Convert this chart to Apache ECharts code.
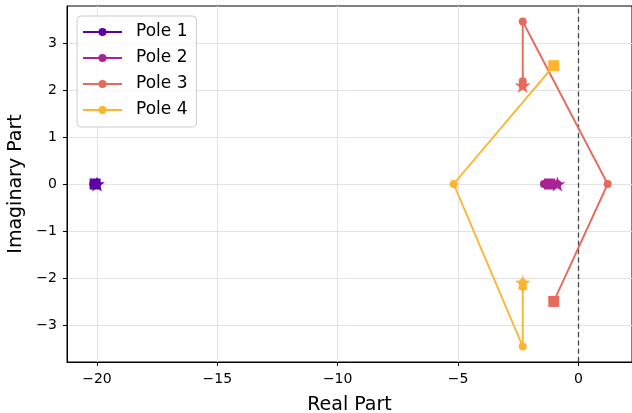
<!DOCTYPE html>
<html><head><meta charset="utf-8">
<script src="https://cdn.jsdelivr.net/npm/echarts@6/dist/echarts.min.js"></script>
<style>html,body{margin:0;padding:0;background:#fff}#c{width:632px;height:413px}</style>
</head><body><div id="c"></div>
<script>
// ---- data ----
const poleNames = ['Pole 1', 'Pole 2', 'Pole 3', 'Pole 4'];
const pole1 = [[-20.0, 0], [-20.05, 0], [-20.1, 0], [-20.15, 0], [-20.08, 0]];
const pole2 = [[-0.87, 0], [-1.05, 0], [-1.25, 0], [-1.43, 0], [-1.2, 0]];
const pole3 = [[-2.31, 2.10], [-2.31, 2.19], [-2.31, 3.46], [1.22, 0], [-1.02, -2.50]];
const pole4 = [[-2.31, -2.10], [-2.31, -2.19], [-2.31, -3.46], [-5.18, 0], [-1.02, 2.52]];
const xTicks = [-20, -15, -10, -5, 0];
const yTicks = [-3, -2, -1, 0, 1, 2, 3];
const colors = ['#5c01a6', '#aa2395', '#e56b5d', '#fdb42f'];

// ---- styling helpers ----
function starPath() {
  let d = '';
  for (let i = 0; i < 10; i++) {
    const r = i % 2 === 0 ? 1 : 0.381966;
    const a = -Math.PI / 2 + i * Math.PI / 5;
    d += (i === 0 ? 'M' : 'L') + (r * Math.cos(a)).toFixed(4) + ' ' + (r * Math.sin(a)).toFixed(4) + ' ';
  }
  return 'path://' + d + 'Z';
}
const STAR = starPath();
const fmt = v => String(v).replace('-', '\u2212');
const FONT = 'DejaVu Sans';

const poles = [pole1, pole2, pole3, pole4];
const series = [];
poles.forEach((p, i) => {
  const s = {
    name: poleNames[i], type: 'line', data: p, symbol: 'circle', symbolSize: 8,
    showSymbol: true, color: colors[i],
    lineStyle: { width: 1.9, color: colors[i] },
    itemStyle: { color: colors[i] }, z: 3 + i * 3, animation: false
  };
  if (i === 0) {
    s.markLine = {
      silent: true, symbol: 'none', label: { show: false },
      lineStyle: { color: '#000', opacity: 0.7, type: [5, 3.3], width: 1.3 },
      data: [{ xAxis: 0 }], animation: false
    };
  }
  series.push(s);
  series.push({
    name: poleNames[i] + ' start', type: 'scatter', data: [p[0]],
    symbol: STAR, symbolKeepAspect: true, symbolSize: 16,
    itemStyle: { color: colors[i], opacity: 1 }, z: 4 + i * 3, animation: false
  });
  series.push({
    name: poleNames[i] + ' end', type: 'scatter', data: [p[p.length - 1]],
    symbol: 'rect', symbolSize: 11,
    itemStyle: { color: colors[i], opacity: 1 }, z: 5 + i * 3, animation: false
  });
});

const chart = echarts.init(document.getElementById('c'), null, { renderer: 'canvas' });
chart.setOption({
  backgroundColor: '#fff',
  animation: false,
  grid: { left: 67, right: 0, top: 6, bottom: 51, containLabel: false, outerBoundsMode: 'none',
          show: true, borderColor: '#000', borderWidth: 1, backgroundColor: 'transparent' },
  legend: {
    data: poleNames, orient: 'vertical', left: 77, top: 16,
    padding: [6, 9, 7, 5], itemWidth: 39, itemHeight: 10, itemGap: 6,
    backgroundColor: 'rgba(255,255,255,0.8)', borderColor: '#cccccc', borderWidth: 1, borderRadius: 4,
    textStyle: { fontFamily: FONT, fontSize: 17, color: '#000', lineHeight: 20, padding: [0, 0, 0, 9] }
  },
  xAxis: {
    type: 'value', min: -21.246, max: 2.23,
    name: 'Real Part', nameLocation: 'middle', nameGap: 34,
    nameTextStyle: { fontFamily: FONT, fontSize: 19, color: '#000' },
    axisLine: { show: true, onZero: false, lineStyle: { color: '#000', width: 1 } },
    axisTick: { show: true, length: 4, lineStyle: { color: '#000' }, customValues: xTicks },
    axisLabel: { fontFamily: FONT, fontSize: 14, color: '#000', margin: 10, customValues: xTicks, formatter: fmt },
    splitLine: { show: true, lineStyle: { color: '#e3e3e3', width: 1 } }
  },
  yAxis: {
    type: 'value', min: -3.79, max: 3.79,
    name: 'Imaginary Part', nameLocation: 'middle', nameGap: 37,
    nameTextStyle: { fontFamily: FONT, fontSize: 19, color: '#000' },
    axisLine: { show: true, onZero: false, lineStyle: { color: '#000', width: 1 } },
    axisTick: { show: true, length: 4, lineStyle: { color: '#000' }, customValues: yTicks },
    axisLabel: { fontFamily: FONT, fontSize: 14, color: '#000', margin: 10, customValues: yTicks, formatter: fmt },
    splitLine: { show: true, lineStyle: { color: '#e3e3e3', width: 1 } }
  },
  series: series
});
</script>
</body></html>
